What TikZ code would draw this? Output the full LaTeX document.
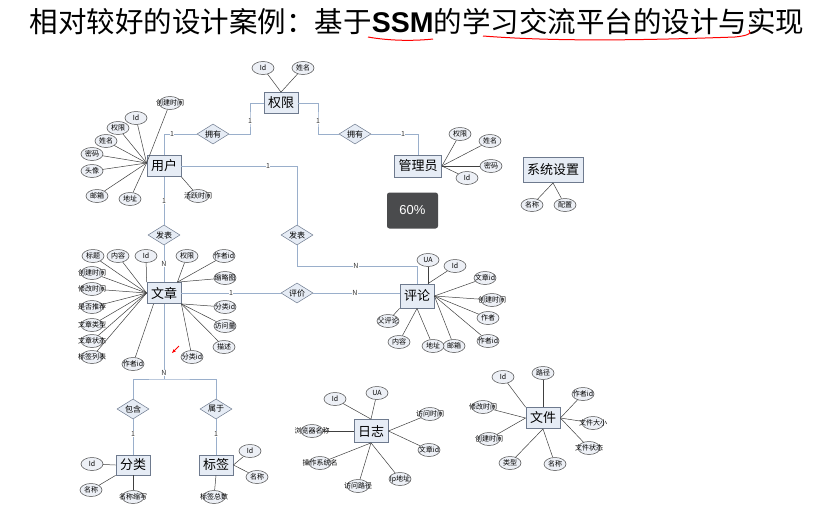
\documentclass[tikz,border=0pt]{standalone}
\usepackage{fontspec}
\setmainfont{Noto Sans CJK SC}
\newfontfamily\pctfont{Liberation Sans}
\usetikzlibrary{shapes.geometric,arrows.meta}
\definecolor{conncol}{HTML}{9AAFCB}
\definecolor{boxfill}{HTML}{E6ECF5}
\definecolor{boxdraw}{HTML}{6E7A8E}
\definecolor{attrfill}{HTML}{EDF0F6}
\definecolor{pctbg}{HTML}{4A4B4D}
\newlength\attrw
\newcommand\attrfont{\fontsize{7}{7}\selectfont}
\newcommand\attrnode[4][10]{%
  \settowidth\attrw{\attrfont #4}%
  \node[attr, minimum width={max(\attrw+#1pt,22pt)}] (#2) at (#3) {\makebox[0pt]{#4}};}
\begin{document}
\begin{tikzpicture}[x=1pt,y=-1pt,
 ent/.style={draw=boxdraw, fill=boxfill, line width=0.8pt, inner xsep=4pt, inner ysep=0pt, minimum height=21pt, font=\fontsize{13}{13}\selectfont},
 rel/.style={diamond, draw=boxdraw, fill=boxfill, line width=0.5pt, inner sep=0pt, minimum width=32pt, minimum height=20pt, font=\fontsize{8}{8}\selectfont},
 attr/.style={ellipse, draw=black!70, fill=attrfill, line width=0.5pt, inner sep=0pt, minimum height=13pt, font=\attrfont},
 al/.style={draw=black!75, line width=0.5pt},
 conn/.style={draw=conncol, line width=1pt},
 card/.style={fill=white, inner sep=0.5pt, font=\fontsize{7}{7}\selectfont, text=black!80}]
\fill[white] (0,0) rectangle (813,506);
\useasboundingbox (0,0) rectangle (813,506);

% title
\node[font=\fontsize{28.5}{28.5}\selectfont] (title) at (417,22) {相对较好的设计案例：基于{\pctfont\bfseries SSM}的学习交流平台的设计与实现};
\draw[red, line width=1pt] (368,37) .. controls (390,41) and (415,41) .. (433,39);
\draw[red, line width=1pt] (483,36) .. controls (560,42) and (650,40) .. (735,37) .. controls (745,36) and (753,34) .. (749,30);

% entities
\node[ent] (perm) at (281,103) {权限};
\node[ent] (user) at (164,166) {用户};
\node[ent, minimum height=22pt] (admin) at (418,166) {管理员};
\node[ent, minimum height=25pt] (sys) at (553,170) {系统设置};
\node[ent] (art) at (164,293) {文章};
\node[ent, minimum height=24pt] (cmt) at (417,296) {评论};
\node[ent, minimum height=23pt] (log) at (371,431) {日志};
\node[ent] (file) at (543,418) {文件};
\node[ent, minimum height=20pt] (cat) at (133,465) {分类};
\node[ent, minimum height=20pt] (tag) at (216,465) {标签};

% relations
\node[rel] (own1) at (213,134) {\makebox[0pt]{拥有}};
\node[rel] (own2) at (355,134) {\makebox[0pt]{拥有}};
\node[rel] (pub1) at (164,235) {\makebox[0pt]{发表}};
\node[rel] (pub2) at (297,235) {\makebox[0pt]{发表}};
\node[rel] (eval) at (297,293) {\makebox[0pt]{评价}};
\node[rel] (inc) at (133,409) {\makebox[0pt]{包含}};
\node[rel] (bel) at (216,409) {\makebox[0pt]{属于}};

% connectors
\coordinate (k1) at (250,120);
\coordinate (k2) at (318,120);
\coordinate (k3) at (297,266);
\coordinate (jn) at (164,379);
\draw[conn] (perm.west) -| (k1) |- (own1.east);
\draw[conn] (own1.west) -| (user.north);
\draw[conn] (perm.east) -| (k2) |- (own2.west);
\draw[conn] (own2.east) -| (admin.north);
\draw[conn] (user.south) -- (pub1.north);
\draw[conn] (pub1.south) -- (art.north);
\draw[conn] (user.east) -| (pub2.north);
\draw[conn] (pub2.south) -- (k3) -| (cmt.north);
\draw[conn] (art.east) -- (eval.west);
\draw[conn] (eval.east) -- (eval.east -| cmt.west);
\draw[conn] (art.south) -- (jn);
\draw[conn] (inc.north) |- (jn) -| (bel.north);
\draw[conn] (inc.south) -- (cat.north);
\draw[conn] (bel.south) -- (tag.north);

% cardinalities
\node[card] (n1) at (250,121) {1};
\node[card] (n2) at (172,134) {1};
\node[card] (n3) at (318,121) {1};
\node[card] (n4) at (403,134) {1};
\node[card] (n5) at (268,166) {1};
\node[card] (n6) at (164,201) {1};
\node[card] (n7) at (164,264) {N};
\node[card] (n8) at (356,266) {N};
\node[card] (n9) at (231,293) {1};
\node[card] (n10) at (355,293) {N};
\node[card] (n11) at (164,373) {N};
\node[card] (n12) at (133,434) {1};
\node[card] (n13) at (216,434) {1};

% attributes: 权限
\attrnode{p1}{263,68}{Id}
\attrnode{p2}{303,68}{姓名}
\foreach \n in {p1,p2} \draw[al] (\n) -- (perm.north);

% 用户
\attrnode{u1}{170,103}{创建时间}
\attrnode{u2}{136,118}{Id}
\attrnode{u3}{118,128}{权限}
\attrnode{u4}{106,141}{姓名}
\attrnode{u5}{92,154}{密码}
\attrnode{u6}{92,171}{头像}
\attrnode{u7}{97,196}{邮箱}
\attrnode{u8}{130,199}{地址}
\attrnode{u9}{198,196}{活跃时间}
\coordinate (uh) at ([yshift=3pt]user.west);
\foreach \n in {u1,u2,u3,u4,u5,u6,u7,u8} \draw[al] (\n) -- (uh);
\draw[al] (u9) -- (user.south east);

% 管理员
\attrnode{a1}{460,134}{权限}
\attrnode{a2}{490,141}{姓名}
\attrnode{a3}{491,166}{密码}
\attrnode{a4}{467,178}{Id}
\foreach \n in {a1,a2,a3,a4} \draw[al] (\n) -- (admin.east);

% 系统设置
\attrnode{s1}{532,205}{名称}
\attrnode{s2}{565,205}{配置}
\foreach \n in {s1,s2} \draw[al] (\n) -- (sys.south);

% 文章
\attrnode{t1}{93,256}{标题}
\attrnode{t2}{118,256}{内容}
\attrnode{t3}{146,256}{Id}
\attrnode{t4}{187,256}{权限}
\attrnode{t5}{224,256}{作者id}
\attrnode{t6}{225,278}{缩略图}
\attrnode{t7}{225,307}{分类id}
\attrnode{t8}{225,326}{访问量}
\attrnode{t9}{224,347}{描述}
\attrnode{t10}{192,357}{分类id}
\attrnode{t11}{133,364}{作者id}
\attrnode{t12}{92,273}{创建时间}
\attrnode{t13}{92,289}{修改时间}
\attrnode{t14}{92,307}{是否推荐}
\attrnode{t15}{92,325}{文章类型}
\attrnode{t16}{92,341}{文章状态}
\attrnode{t17}{92,357}{标签列表}
\foreach \n in {t1,t2,t12,t13,t14,t15,t16,t17} \draw[al] (\n) -- (art.west);
\draw[al] (t3) -- (art.north west);
\draw[al] (t11) -- ([xshift=7pt]art.south west);
\foreach \n in {t4,t5,t6} \draw[al] (\n) -- ([xshift=-4pt]art.north east);
\foreach \n in {t7,t8,t9,t10} \draw[al] (\n) -- (art.south east);

% 评论
\attrnode{c1}{428,260}{UA}
\attrnode{c2}{455,266}{Id}
\attrnode{c3}{485,278}{文章id}
\attrnode{c4}{492,300}{创建时间}
\attrnode{c5}{488,318}{作者}
\attrnode{c6}{488,341}{作者id}
\attrnode{c7}{454,346}{邮箱}
\attrnode{c8}{433,346}{地址}
\attrnode{c9}{399,342}{内容}
\attrnode{c10}{388,321}{父评论}
\coordinate (ch) at (c1 |- cmt.north);
\foreach \n in {c1,c2} \draw[al] (\n) -- (ch);
\foreach \n in {c3,c4,c5,c6,c7} \draw[al] (\n) -- (cmt.east);
\foreach \n in {c8,c9} \draw[al] (\n) -- (cmt.south);
\draw[al] (c10) -- (cmt.south west);

% 日志
\attrnode[14]{l1}{335,399}{Id}
\attrnode[14]{l2}{377,393}{UA}
\attrnode[14]{l3}{430,414}{访问时间}
\attrnode[22]{l4}{429,450}{文章id}
\attrnode[14]{l5}{400,479}{Ip地址}
\attrnode[14]{l6}{358,486}{访问路径}
\attrnode[12]{l7}{320,463}{操作系统名}
\attrnode[12]{l8}{312,431}{浏览器名称}
\foreach \n in {l1,l2} \draw[al] (\n) -- (log.north);
\foreach \n in {l3,l4} \draw[al] (\n) -- (log.east);
\foreach \n in {l5,l6,l7} \draw[al] (\n) -- (log.south);
\draw[al] (l8) -- (log.west);

% 文件
\attrnode{f1}{503,377}{Id}
\attrnode{f2}{543,373}{路径}
\attrnode{f3}{583,394}{作者id}
\attrnode[12]{f4}{593,423}{文件大小}
\attrnode[12]{f5}{589,448}{文件状态}
\attrnode{f6}{555,464}{名称}
\attrnode{f7}{510,463}{类型}
\attrnode[14]{f8}{489,439}{创建时间}
\attrnode[12]{f9}{483,407}{修改时间}
\draw[al] (f1) -- (file.north west);
\draw[al] (f2) -- (file.north);
\foreach \n in {f3,f4,f5} \draw[al] (\n) -- (file.east);
\foreach \n in {f6,f7} \draw[al] (\n) -- (file.south);
\foreach \n in {f8,f9} \draw[al] (\n) -- (file.west);

% 分类
\attrnode{g1}{92,464}{Id}
\attrnode{g2}{91,490}{名称}
\attrnode{g3}{133,497}{名称缩写}
\draw[al] (g1) -- (cat.west);
\draw[al] (g2) -- (cat.south west);
\draw[al] (g3) -- (cat.south);

% 标签
\attrnode{h1}{250,451}{Id}
\attrnode{h2}{257,477}{名称}
\attrnode{h3}{214,497}{标签总数}
\foreach \n in {h1,h2} \draw[al] (\n) -- (tag.east);
\draw[al] (h3) -- (tag.south);

% overlay and cursor
\node[fill=pctbg, rounded corners=2.5pt, minimum width=51pt, minimum height=36pt, text=white, font=\pctfont\fontsize{13}{13}\selectfont] (pct) at (412.5,210.5) {60\%};
\draw[red, line width=0.8pt, -{Stealth[length=4pt,width=3pt]}] (179,346) -- (172,353);
\end{tikzpicture}
\end{document}
